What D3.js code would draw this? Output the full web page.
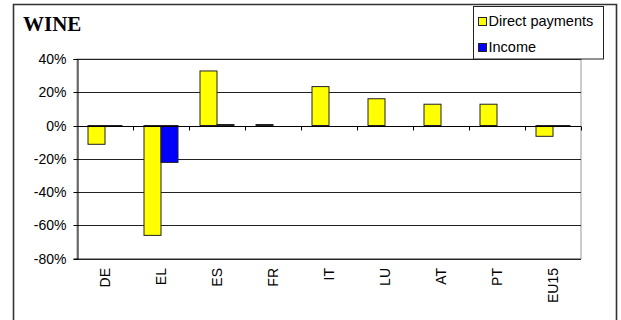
<!DOCTYPE html>
<html>
<head>
<meta charset="utf-8">
<script src="https://cdn.jsdelivr.net/npm/d3@7/dist/d3.min.js"></script>
<style>
  html, body { margin: 0; padding: 0; background: #fff; }
  svg { display: block; }
</style>
</head>
<body>
<svg id="chart" width="621" height="320"></svg>
<script>
// Wine sector: change in direct payments and income by member state
const categories = ["DE", "EL", "ES", "FR", "IT", "LU", "AT", "PT", "EU15"];
const directPayments = [-11.3, -66.1, 32.8, 0.6, 23.4, 16.1, 12.8, 12.8, -6.5];
const income = [-0.6, -22.2, 0.6, 0.0, 0.0, 0.0, 0.0, 0.0, -0.6];
const yTicks = [40, 20, 0, -20, -40, -60, -80];
const seriesNames = ["Direct payments", "Income"];
const seriesColors = ["#ffff00", "#0000ff"];

const sans = "'Liberation Sans', Arial, sans-serif";
const svg = d3.select("#chart");
const plot = { left: 77, right: 581, top: 59, bottom: 258.5 };

// Outer frame (open at the bottom edge of the page)
svg.append("path")
  .attr("d", "M13.5,330 V4.5 H616.5 V330")
  .attr("fill", "none")
  .attr("stroke", "#333")
  .attr("stroke-width", 1.6);

// Title
svg.append("text")
  .attr("x", 23).attr("y", 31)
  .attr("font-family", "'Liberation Serif', 'Times New Roman', serif")
  .attr("font-weight", "bold")
  .attr("font-size", 21)
  .attr("fill", "#000")
  .text("WINE");

const x = d3.scaleBand().domain(categories).range([plot.left, plot.right]);
const y = d3.scaleLinear().domain([-80, 40]).range([plot.bottom, plot.top]);
const barW = 17;

// Plot area border
svg.append("rect")
  .attr("x", plot.left).attr("y", plot.top)
  .attr("width", plot.right - plot.left).attr("height", plot.bottom - plot.top)
  .attr("fill", "#fff").attr("stroke", "#999").attr("stroke-width", 1);

// Gridlines
svg.append("g").selectAll("line").data(yTicks).join("line")
  .attr("x1", plot.left).attr("x2", plot.right)
  .attr("y1", d => Math.round(y(d)) + 0.5).attr("y2", d => Math.round(y(d)) + 0.5)
  .attr("stroke", "#222").attr("stroke-width", 1);

// Y axis
const yAxis = d3.axisLeft(y).tickValues(yTicks).tickSize(4).tickPadding(7)
  .tickFormat(d => d + "%");
const yg = svg.append("g").attr("transform", `translate(${plot.left + 0.5},0)`).call(yAxis);
yg.attr("font-size", null).attr("font-family", null);
yg.select(".domain").attr("stroke", "#000");
yg.selectAll(".tick line").attr("stroke", "#000");
yg.selectAll(".tick").attr("transform", d => `translate(0,${Math.round(y(d)) + 0.5})`);
yg.selectAll("text")
  .attr("font-family", sans)
  .attr("font-size", 14).attr("fill", "#000");

// Bars
const series = [directPayments, income];
series.forEach((vals, si) => {
  svg.append("g").selectAll("rect").data(categories).join("rect")
    .attr("x", (c) => x(c) + x.bandwidth() / 2 - barW + si * barW)
    .attr("y", (c, i) => y(Math.max(0, vals[i])))
    .attr("width", barW)
    .attr("height", (c, i) => Math.abs(y(vals[i]) - y(0)))
    .attr("fill", seriesColors[si])
    .attr("stroke", "#222").attr("stroke-width", 1)
    .attr("display", (c, i) => vals[i] === 0 ? "none" : null);
});

// X axis along zero line with ticks at category boundaries
const y0 = Math.round(y(0)) + 0.5;
svg.append("line")
  .attr("x1", plot.left).attr("x2", plot.right)
  .attr("y1", y0).attr("y2", y0)
  .attr("stroke", "#000").attr("stroke-width", 1.2);
svg.append("g").selectAll("line").data(categories).join("line")
  .attr("x1", (c, i) => Math.round(plot.left + (i + 1) * x.bandwidth()) + 0.5)
  .attr("x2", (c, i) => Math.round(plot.left + (i + 1) * x.bandwidth()) + 0.5)
  .attr("y1", y0).attr("y2", y0 + 4)
  .attr("stroke", "#000");

// Category labels, rotated
svg.append("g").selectAll("text").data(categories).join("text")
  .attr("transform", c => `translate(${x(c) + x.bandwidth() / 2 + 5},${plot.bottom + 9.5}) rotate(-90)`)
  .attr("text-anchor", "end")
  .attr("font-family", sans)
  .attr("font-size", 14).attr("fill", "#000")
  .text(c => c);

// Legend
const lg = svg.append("g");
lg.append("rect")
  .attr("x", 473.5).attr("y", 6.5).attr("width", 130).attr("height", 52.5)
  .attr("fill", "#fff").attr("stroke", "#222").attr("stroke-width", 1);
seriesNames.forEach((name, i) => {
  const cy = 21.5 + i * 26;
  lg.append("rect")
    .attr("x", 478.5).attr("y", cy - 4).attr("width", 8).attr("height", 8)
    .attr("fill", seriesColors[i]).attr("stroke", "#222").attr("stroke-width", 1);
  lg.append("text")
    .attr("x", 488.5).attr("y", cy + 4.5)
    .attr("font-family", sans)
    .attr("font-size", 14.5).attr("fill", "#000")
    .text(name);
});
</script>
</body>
</html>
